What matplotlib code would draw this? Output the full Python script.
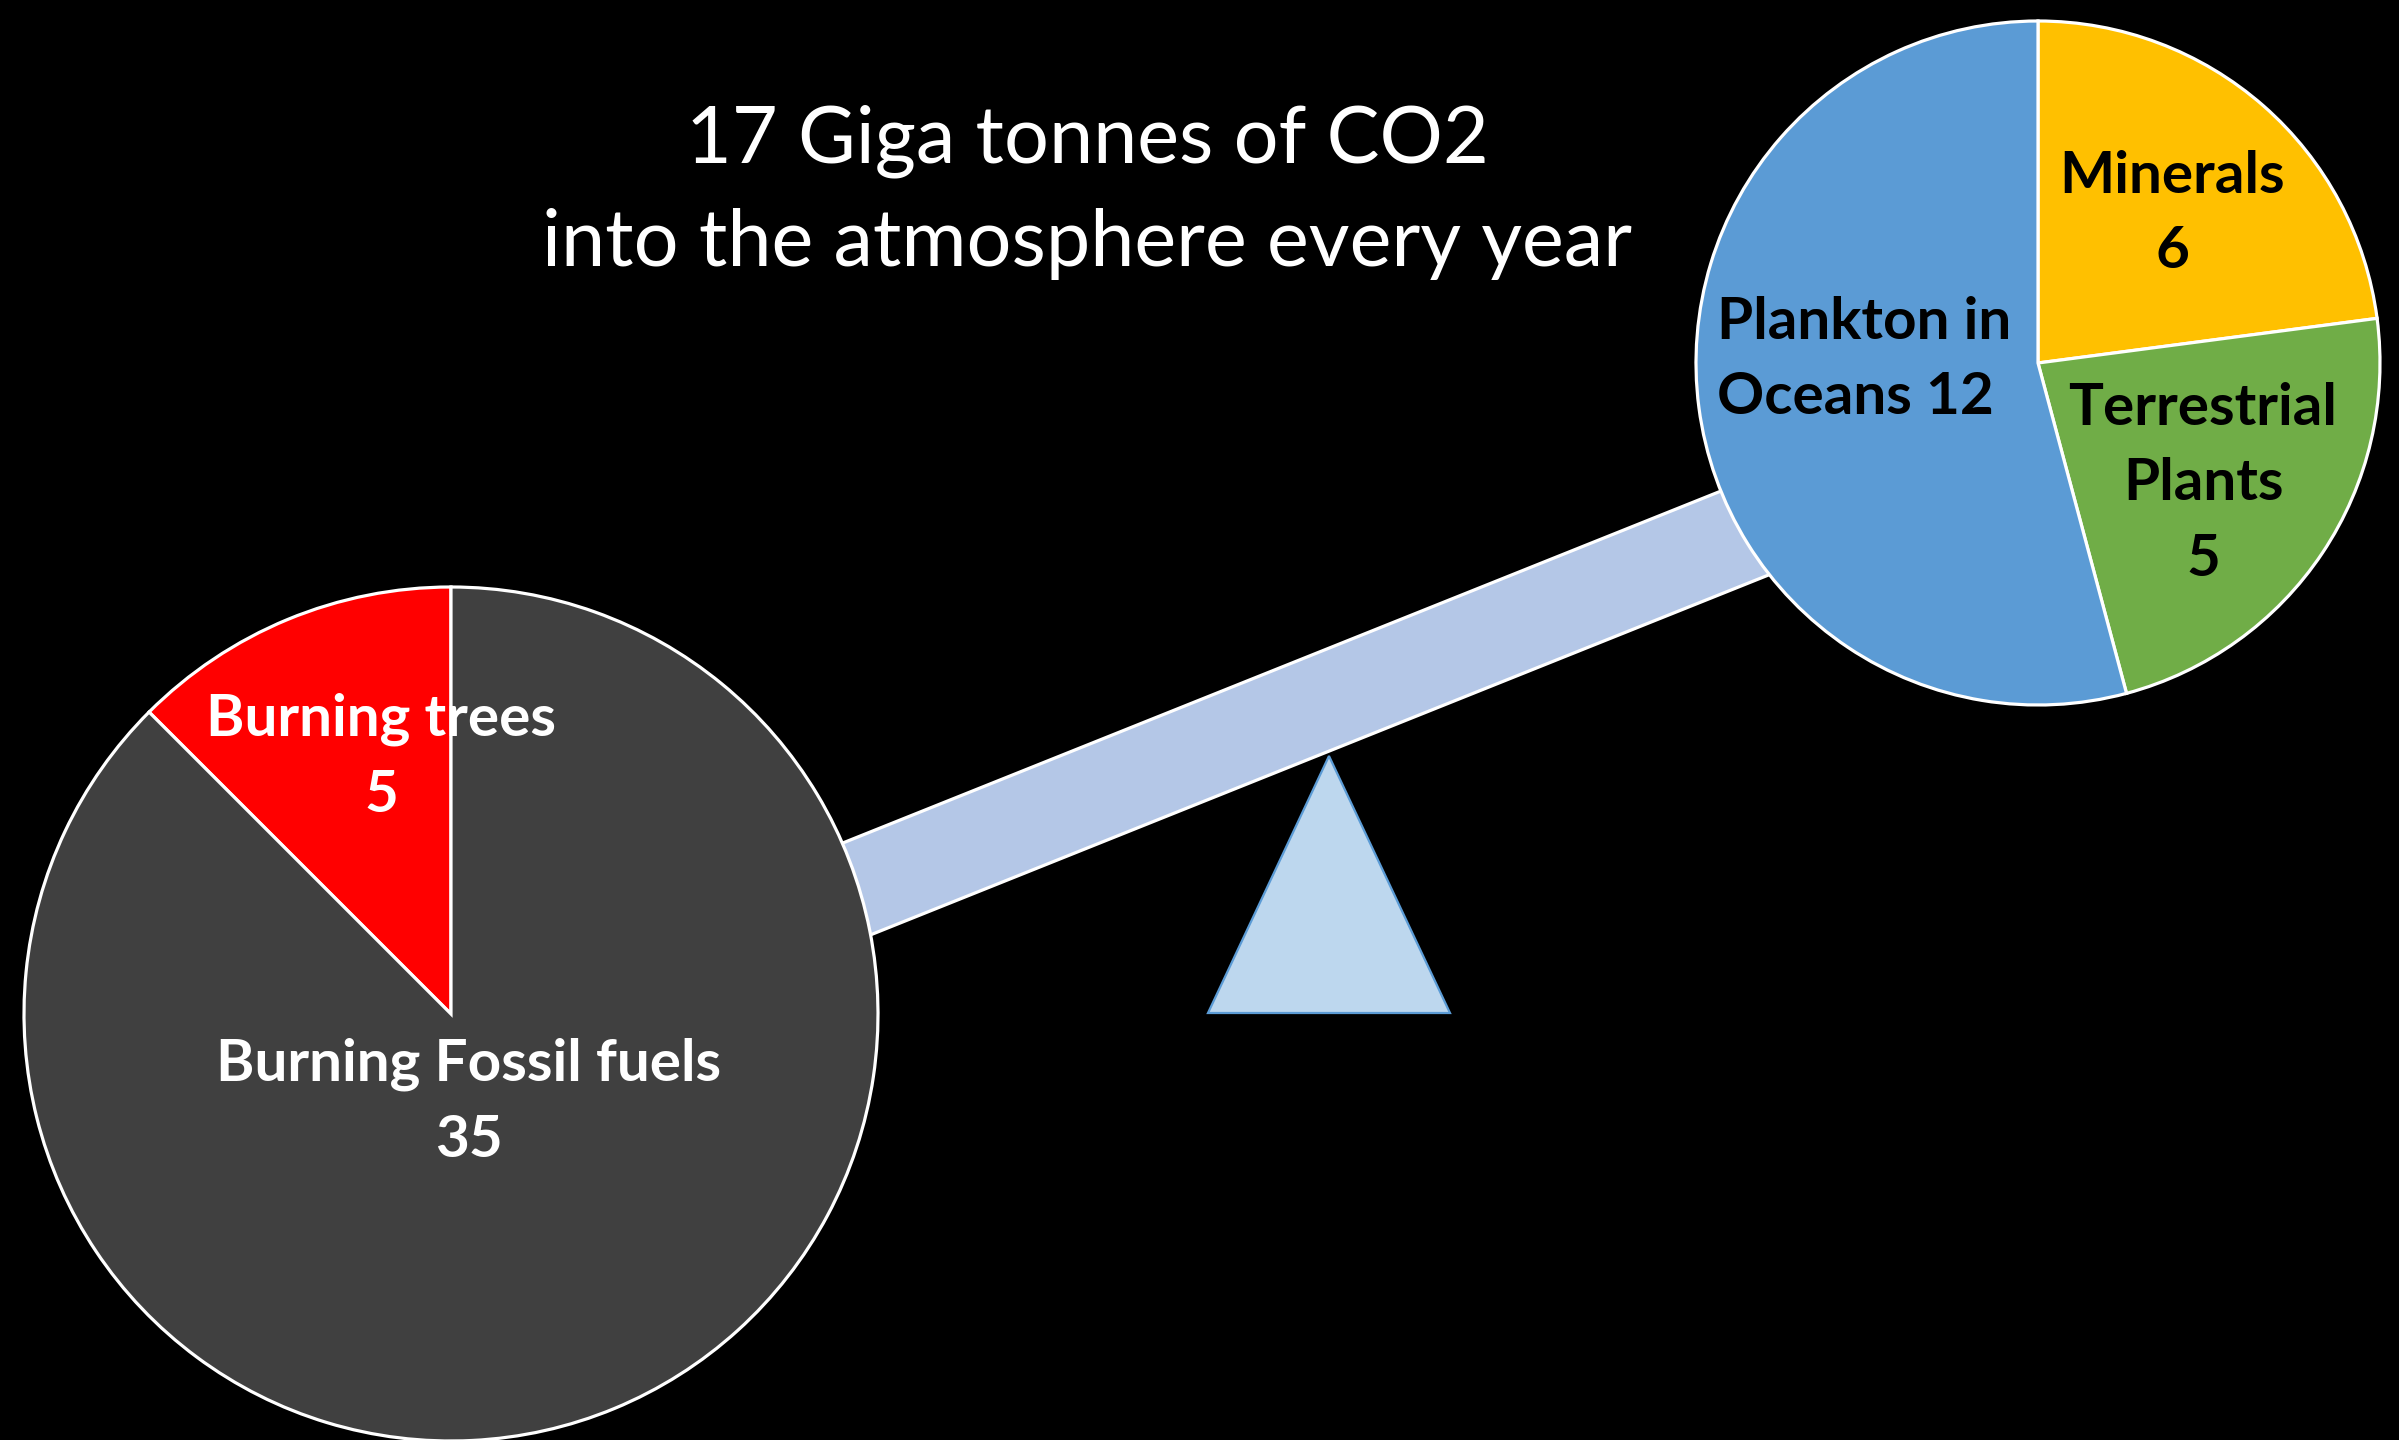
import matplotlib
matplotlib.use("Agg")
import matplotlib.pyplot as plt
from matplotlib.patches import Polygon

plt.rcParams['font.family'] = ['Lato', 'DejaVu Sans']

# sources (left pan of the seesaw)
source_labels = ["Burning trees\n5", "Burning Fossil fuels\n35"]
source_values = [5, 35]
source_colors = ["#FF0000", "#404040"]

# sinks (right pan) - wedge shares
sink_labels = ["Minerals\n6", "Terrestrial\nPlants\n5", "Plankton in\nOceans 12"]
sink_values = [5.5, 5.5, 13]
sink_colors = ["#FFC000", "#70AD47", "#5B9BD5"]

title = "17 Giga tonnes of CO2\ninto the atmosphere every year"

W, H = 2399, 1440
fig = plt.figure(figsize=(W / 100, H / 100), dpi=100, facecolor="black")
ax = fig.add_axes([0, 0, 1, 1])
ax.set_facecolor("black")

# beam of the seesaw, goes behind both pies
beam = Polygon([(451, 440), (2038, 1076), (2038, 973), (451, 337)],
               closed=True, facecolor="#B4C7E7", edgecolor="white", lw=2.3, zorder=1)
ax.add_patch(beam)

# fulcrum
tri = Polygon([(1208, 427), (1450, 427), (1329, 684)], closed=True,
              facecolor="#BDD7EE", edgecolor="#5B9BD5", lw=1.6, zorder=1)
ax.add_patch(tri)

wp = dict(edgecolor="white", linewidth=2.3)
ax.pie(source_values, colors=source_colors, startangle=90, counterclock=True,
       center=(451, 426), radius=427, wedgeprops=wp, frame=True)
ax.pie(sink_values, colors=sink_colors, startangle=90, counterclock=False,
       center=(2038, 1077), radius=342, wedgeprops=wp, frame=True)

for p in ax.patches:
    if p not in (beam, tri):
        p.set_zorder(2)

lab = dict(fontsize=42, fontweight="bold", linespacing=1.53, zorder=3)
ax.text(381, 683, source_labels[0], color="white", ha="center", va="center", **lab)
ax.text(469, 338, source_labels[1], color="white", ha="center", va="center", **lab)
ax.text(2172, 1226, sink_labels[0], color="black", ha="center", va="center", **lab)
ax.text(2203, 956, sink_labels[1], color="black", ha="center", va="center", **lab)
ax.text(1717, 1080, sink_labels[2], color="black", ha="left", va="center", **lab)

ax.text(1087, 1248, title, color="white", ha="center", va="center",
        fontsize=57, linespacing=1.52, zorder=3)

ax.set_xlim(0, W)
ax.set_ylim(0, H)
ax.set_aspect("auto")
ax.axis("off")

fig.savefig("out.png", dpi=100, facecolor="black")
